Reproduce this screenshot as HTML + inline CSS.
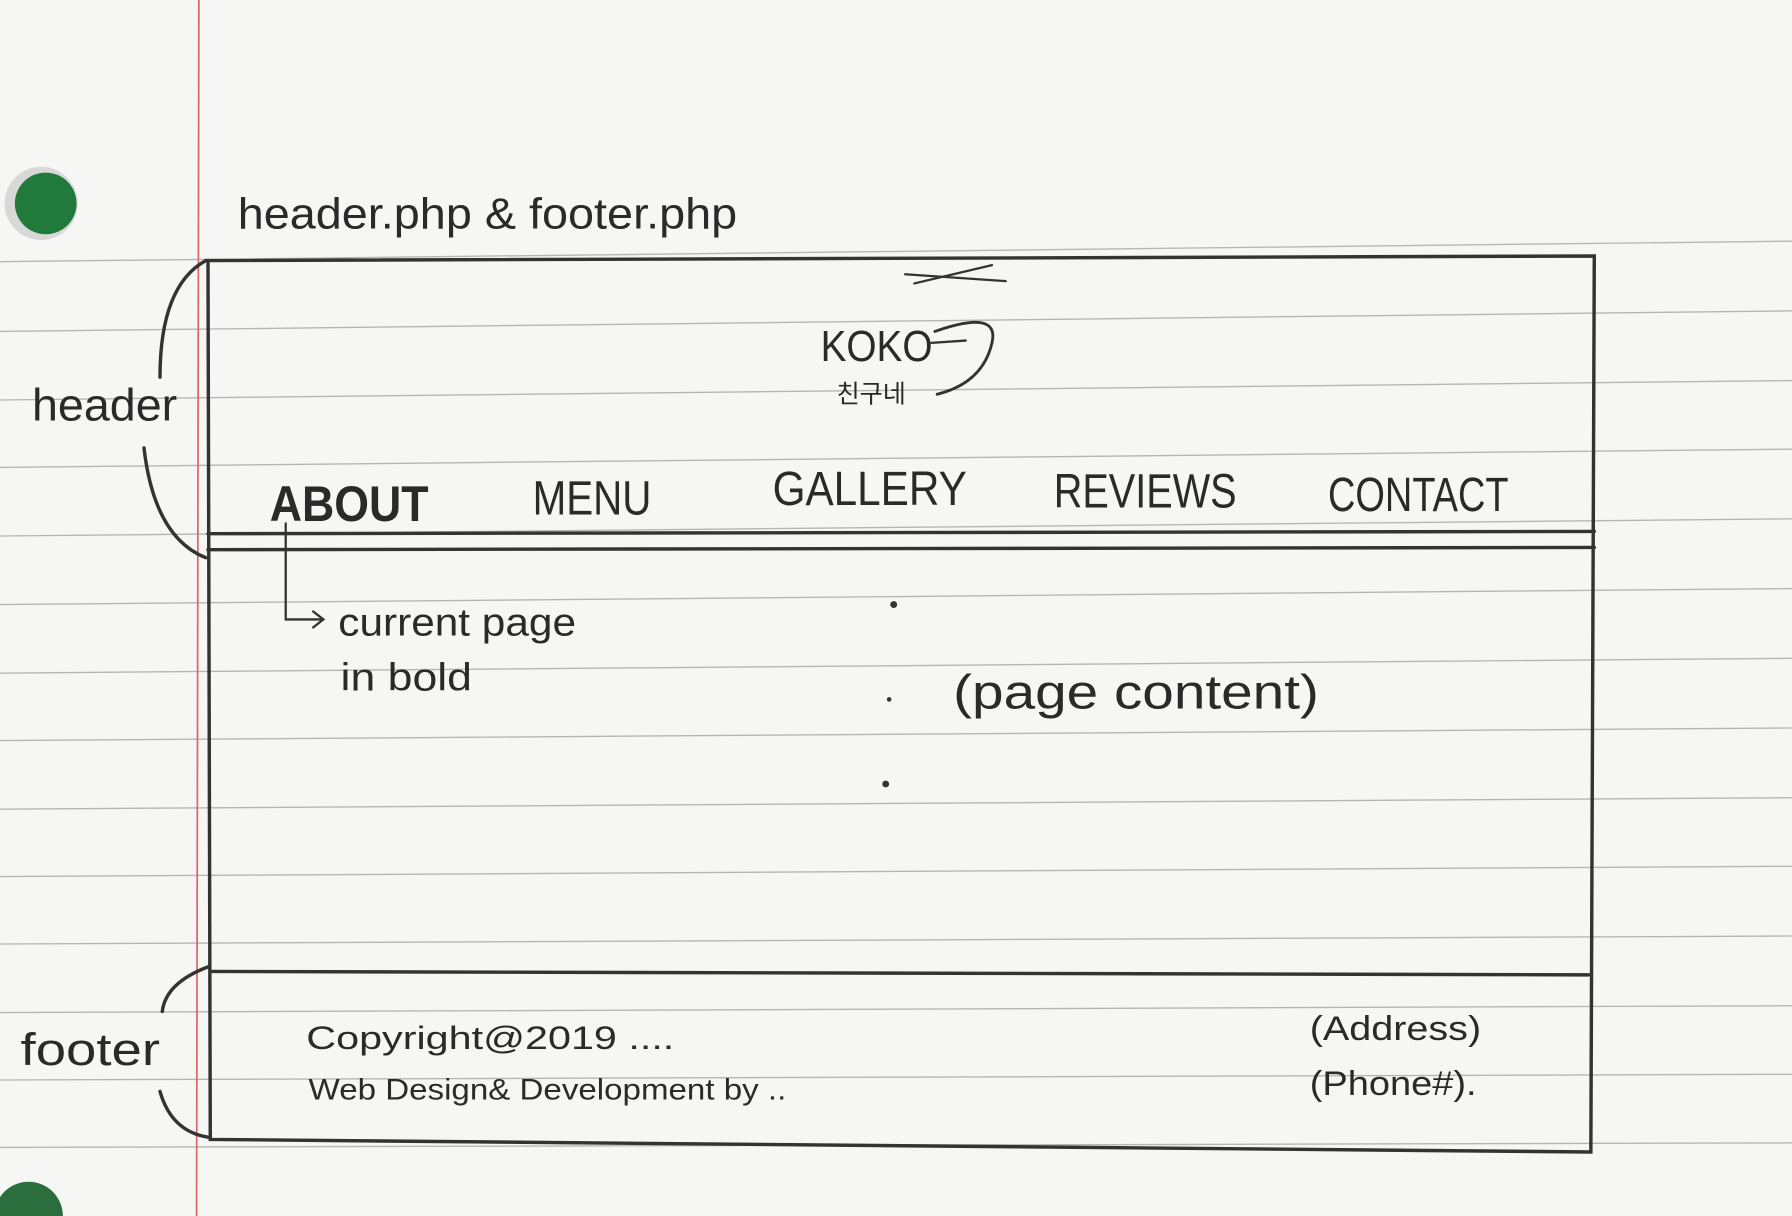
<!DOCTYPE html>
<html><head><meta charset="utf-8"><style>
html,body{margin:0;padding:0;background:#f6f6f5;}
svg{display:block}
text{font-family:"Liberation Sans","Noto Sans CJK KR",sans-serif;fill:#2a2a2a}
</style></head><body>
<svg width="1792" height="1216" viewBox="0 0 1568 1064" xmlns="http://www.w3.org/2000/svg">
<rect width="1568" height="1064" fill="#f6f6f5"/>
<g stroke="#a0a0a0" stroke-width="1.2" fill="none" opacity="0.75">
<line x1="0" y1="229" x2="1568" y2="211"/>
<line x1="0" y1="290" x2="1568" y2="272"/>
<line x1="0" y1="350" x2="1568" y2="333"/>
<line x1="0" y1="409" x2="1568" y2="393"/>
<line x1="0" y1="469" x2="1568" y2="454"/>
<line x1="0" y1="529" x2="1568" y2="515"/>
<line x1="0" y1="589" x2="1568" y2="576"/>
<line x1="0" y1="648" x2="1568" y2="637"/>
<line x1="0" y1="708" x2="1568" y2="698"/>
<line x1="0" y1="767" x2="1568" y2="758"/>
<line x1="0" y1="826" x2="1568" y2="819"/>
<line x1="0" y1="886" x2="1568" y2="880"/>
<line x1="0" y1="945" x2="1568" y2="940"/>
<line x1="0" y1="1004" x2="1568" y2="1000"/>
</g>
<line x1="174" y1="0" x2="172" y2="1064" stroke="#d66" stroke-width="1.5"/>
<circle cx="36" cy="178" r="32" fill="#d8d8d8"/>
<circle cx="40" cy="178" r="27" fill="#1f7a3c"/>
<circle cx="25" cy="1064" r="30" fill="#2a6e3e"/>
<g stroke="#333" stroke-width="3" fill="none" stroke-linecap="round">
<path d="M182 228 L1395 224 L1392 1008 L184 997 Z"/>
<line x1="182" y1="467" x2="1395" y2="465"/>
<line x1="182" y1="481" x2="1395" y2="479"/>
<line x1="184" y1="850" x2="1390" y2="853"/>
<path d="M180 228 Q140 250 140 330"/>
<path d="M126 392 Q135 470 180 488"/>
<path d="M182 846 Q145 860 142 885"/>
<path d="M140 955 Q150 990 182 995"/>
<path d="M250 458 L250 542 L282 542 M274 535 L283 542 L274 549" stroke-width="2"/>
<path d="M792 240 L880 246 M800 248 L868 232" stroke-width="2"/>
<path d="M818 290 Q875 270 868 300 Q860 335 820 345" stroke-width="2.5"/>
<path d="M815 300 L845 298" stroke-width="2"/>
</g>
<text x="208" y="200" font-size="38" textLength="437" lengthAdjust="spacingAndGlyphs">header.php &amp; footer.php</text>
<text x="28" y="368" font-size="40" textLength="127" lengthAdjust="spacingAndGlyphs">header</text>
<text x="18" y="932" font-size="40" textLength="122" lengthAdjust="spacingAndGlyphs">footer</text>
<text x="718" y="316" font-size="38" textLength="98" lengthAdjust="spacingAndGlyphs">KOKO</text>
<text x="732" y="352" font-size="22">친구네</text>
<text x="236" y="456" font-size="44" font-weight="bold" textLength="139" lengthAdjust="spacingAndGlyphs">ABOUT</text>
<text x="466" y="450" font-size="42" textLength="104" lengthAdjust="spacingAndGlyphs">MENU</text>
<text x="676" y="442" font-size="42" textLength="170" lengthAdjust="spacingAndGlyphs">GALLERY</text>
<text x="922" y="444" font-size="42" textLength="160" lengthAdjust="spacingAndGlyphs">REVIEWS</text>
<text x="1162" y="447" font-size="42" textLength="158" lengthAdjust="spacingAndGlyphs">CONTACT</text>
<text x="296" y="556" font-size="34" textLength="208" lengthAdjust="spacingAndGlyphs">current  page</text>
<text x="298" y="604" font-size="34" textLength="115" lengthAdjust="spacingAndGlyphs">in bold</text>
<text x="834" y="620" font-size="42" textLength="320" lengthAdjust="spacingAndGlyphs">(page  content)</text>
<circle cx="782" cy="529" r="3" fill="#333"/>
<circle cx="778" cy="612" r="2" fill="#333"/>
<circle cx="775" cy="686" r="3" fill="#333"/>
<text x="268" y="918" font-size="28" textLength="322" lengthAdjust="spacingAndGlyphs">Copyright@2019 ....</text>
<text x="270" y="962" font-size="26" textLength="418" lengthAdjust="spacingAndGlyphs">Web Design&amp; Development by ..</text>
<text x="1146" y="910" font-size="30" textLength="150" lengthAdjust="spacingAndGlyphs">(Address)</text>
<text x="1146" y="958" font-size="30" textLength="146" lengthAdjust="spacingAndGlyphs">(Phone#).</text>
</svg>
</body></html>
